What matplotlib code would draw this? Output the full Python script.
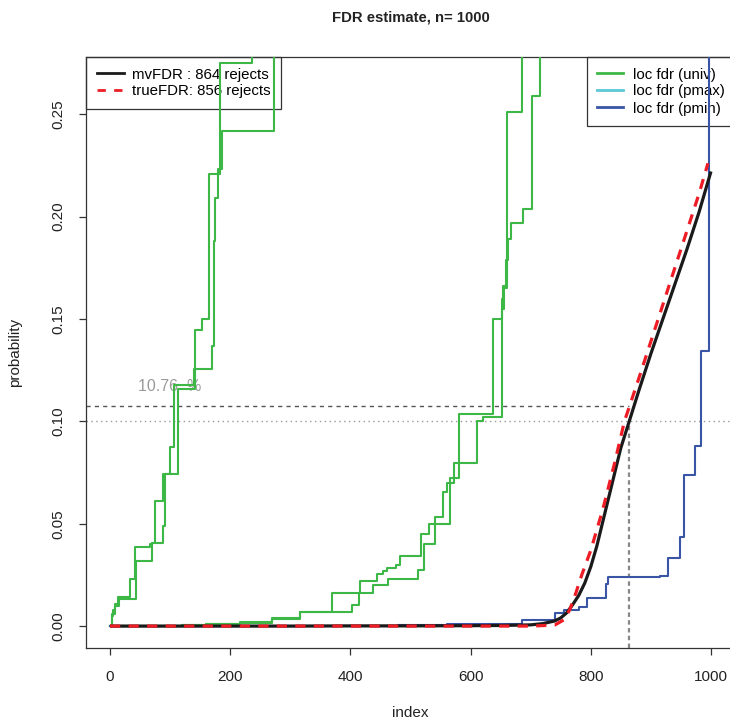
import matplotlib
matplotlib.use("Agg")
import matplotlib.pyplot as plt
from matplotlib.lines import Line2D

plt.rcParams['font.family'] = ['Liberation Sans', 'DejaVu Sans']

# ---------------- data ----------------
title = "FDR estimate, n= 1000"
x_label = "index"
y_label = "probability"
x_ticks = [0, 200, 400, 600, 800, 1000]
y_ticks = [0.00, 0.05, 0.10, 0.15, 0.20, 0.25]
y_tick_labels = ["0.00", "0.05", "0.10", "0.15", "0.20", "0.25"]

fdr_level = 0.10
mv_rejects = 864
true_rejects = 856
est_fdr_at_cut = 0.1076
est_fdr_label = "10.76  %"

# mvFDR (smooth black)
mv_x = [0, 100, 200, 300, 400, 500, 600, 650, 700, 720, 740, 750, 760, 770, 780, 790,
        800, 810, 820, 830, 840, 850, 864, 880, 900, 920, 940, 960, 980, 1000]
mv_y = [0, 0, 0, 0, 0.0001, 0.0001, 0.0002, 0.0003, 0.0006, 0.0012, 0.0025, 0.004,
        0.0065, 0.0105, 0.015, 0.021, 0.029, 0.039, 0.051, 0.063, 0.075, 0.087, 0.100,
        0.115, 0.133, 0.150, 0.167, 0.184, 0.202, 0.222]

# trueFDR (red dashed)
true_x = [0, 200, 400, 600, 700, 740, 755, 765, 775, 785, 800, 820, 840, 856, 880,
          900, 920, 940, 960, 980, 995]
true_y = [0, 0, 0, 0, 0, 0.0005, 0.003, 0.008, 0.016, 0.025, 0.037, 0.057, 0.080,
          0.100, 0.121, 0.139, 0.157, 0.175, 0.193, 0.211, 0.226]

# loc fdr (univ) -- four green step curves
univ1_x = [0, 3, 5, 8, 13, 33, 42, 67, 70, 75, 88, 100, 107, 139, 142, 153, 165, 183, 237]
univ1_y = [0, 0.005, 0.008, 0.011, 0.014, 0.023, 0.0387, 0.040, 0.0405, 0.061, 0.0744,
           0.0876, 0.1177, 0.1255, 0.1445, 0.150, 0.221, 0.275, 0.35]
univ2_x = [0, 4, 8, 15, 43, 69, 88, 92, 113, 142, 170, 173, 175, 180, 186, 273]
univ2_y = [0, 0.006, 0.010, 0.013, 0.0317, 0.0407, 0.049, 0.0744, 0.116, 0.1255,
           0.1367, 0.188, 0.209, 0.223, 0.2417, 0.35]
univ3_x = [0, 120, 160, 216, 269, 316, 369, 416, 444, 455, 461, 476, 483, 517, 530,
           566, 581, 638, 652, 656, 661, 686]
univ3_y = [0, 0.0005, 0.001, 0.0018, 0.004, 0.0068, 0.0161, 0.022, 0.0254, 0.027,
           0.0285, 0.0296, 0.0342, 0.045, 0.050, 0.0724, 0.1037, 0.150, 0.155, 0.165,
           0.251, 0.35]
univ4_x = [0, 120, 160, 216, 269, 316, 402, 415, 437, 463, 490, 513, 523, 540, 554,
           561, 573, 610, 620, 652, 654, 659, 663, 668, 688, 703, 716]
univ4_y = [0, 0.0004, 0.0008, 0.0016, 0.0035, 0.0068, 0.0102, 0.0163, 0.020, 0.0229,
           0.0231, 0.0273, 0.040, 0.0532, 0.0656, 0.070, 0.0797, 0.100, 0.102, 0.1597,
           0.166, 0.179, 0.189, 0.197, 0.2036, 0.259, 0.35]

# loc fdr (pmin) -- blue step curve
pmin_x = [0, 300, 480, 560, 620, 685, 740, 755, 763, 781, 793, 825, 829, 915, 929,
          948, 955, 973, 983, 996]
pmin_y = [0, 0.0002, 0.0005, 0.0008, 0.0011, 0.0029, 0.0065, 0.0078, 0.0081, 0.0093,
          0.0135, 0.0207, 0.0239, 0.0244, 0.0334, 0.0434, 0.0739, 0.0879, 0.1345, 0.35]

legend1_labels = ["mvFDR : 864 rejects", "trueFDR: 856 rejects"]
legend2_labels = ["loc fdr (univ)", "loc fdr (pmax)", "loc fdr (pmin)"]

# ---------------- style ----------------
GREEN = '#3DB847'
CYAN = '#5CC8D6'
BLUE = '#3A55A6'
RED = '#EE1C25'
BLACK = '#1A1A1A'

W, H = 730, 724
fig = plt.figure(figsize=(W / 100, H / 100), dpi=100)
ax_left, ax_right = 86 / W, 735 / W
ax_bottom, ax_top = 1 - 648 / H, 1 - 57 / H
ax = fig.add_axes([ax_left, ax_bottom, ax_right - ax_left, ax_top - ax_bottom])

xlo, xhi = -40, 1040
ylo, yhi = -0.0107, 0.2779
ax.set_xlim(xlo, xhi)
ax.set_ylim(ylo, yhi)

# reference lines
ax.axhline(fdr_level, color='#9A9A9A', lw=1.0, linestyle=(0, (1, 2.5)), zorder=1)
ax.plot([xlo, mv_rejects], [est_fdr_at_cut, est_fdr_at_cut], color='#555555', lw=1.0,
        linestyle=(0, (3, 3)), zorder=1)
ax.plot([mv_rejects, mv_rejects], [ylo, fdr_level], color='#888888', lw=1.6,
        linestyle=(0, (2, 1.5)), zorder=1)
ax.text(100, 0.117, est_fdr_label, color='#9A9A9A', fontsize=11.5, ha='center',
        va='center', zorder=1)

# step curves
for xs, ys in [(univ1_x, univ1_y), (univ2_x, univ2_y), (univ3_x, univ3_y), (univ4_x, univ4_y)]:
    ax.step(xs, ys, where='post', color=GREEN, lw=1.5, zorder=3)
ax.step(pmin_x, pmin_y, where='post', color=BLUE, lw=1.5, zorder=3)

# smooth curves
ax.plot(mv_x, mv_y, color=BLACK, lw=2.3, zorder=4, solid_capstyle='butt')
ax.plot(true_x, true_y, color=RED, lw=2.3, linestyle=(0, (3.2, 2.6)), zorder=5)

# axes styling
for s in ax.spines.values():
    s.set_color('#333333')
    s.set_linewidth(0.9)
ax.set_xticks(x_ticks)
ax.set_xticklabels([str(t) for t in x_ticks])
ax.set_yticks(y_ticks)
ax.set_yticklabels(y_tick_labels, rotation=90, va='center')
ax.tick_params(axis='both', direction='out', length=5.0, width=0.9, color='#333333',
               labelsize=11, labelcolor='#222222')
ax.tick_params(axis='x', pad=11)
ax.tick_params(axis='y', pad=10)

fig.text((86 + 735) / 2 / W, 1 - 18 / H, title, ha='center', va='center',
         fontsize=10.7, fontweight='bold', color='#222222')
fig.text((86 + 735) / 2 / W, 1 - 713 / H, x_label, ha='center', va='center',
         fontsize=11, color='#222222')
fig.text(15 / W, 1 - 352 / H, y_label, ha='center', va='center', rotation=90,
         fontsize=11, color='#222222')

# legends
h1 = [Line2D([], [], color=BLACK, lw=2.0),
      Line2D([], [], color=RED, lw=2.0, linestyle=(0, (3, 3)))]
leg1 = ax.legend(h1, legend1_labels, loc='upper left', bbox_to_anchor=(0, 1),
                 borderaxespad=0, fancybox=False, fontsize=10.8, handlelength=1.8,
                 handletextpad=0.55, labelspacing=0.2, borderpad=0.7,
                 framealpha=1, facecolor='none', edgecolor='#333333')
leg1.get_frame().set_linewidth(0.9)
leg1.set_zorder(2)
ax.add_artist(leg1)

h2 = [Line2D([], [], color=GREEN, lw=2.0),
      Line2D([], [], color=CYAN, lw=2.0),
      Line2D([], [], color=BLUE, lw=2.0)]
leg2 = ax.legend(h2, legend2_labels, loc='upper right', bbox_to_anchor=(1, 1),
                 borderaxespad=0, fancybox=False, fontsize=10.8, handlelength=1.7,
                 handletextpad=0.65, labelspacing=0.2, borderpad=0.7,
                 framealpha=1, facecolor='none', edgecolor='#333333')
leg2.get_frame().set_linewidth(0.9)
leg2.set_zorder(2)

fig.savefig('out.png', dpi=100)
